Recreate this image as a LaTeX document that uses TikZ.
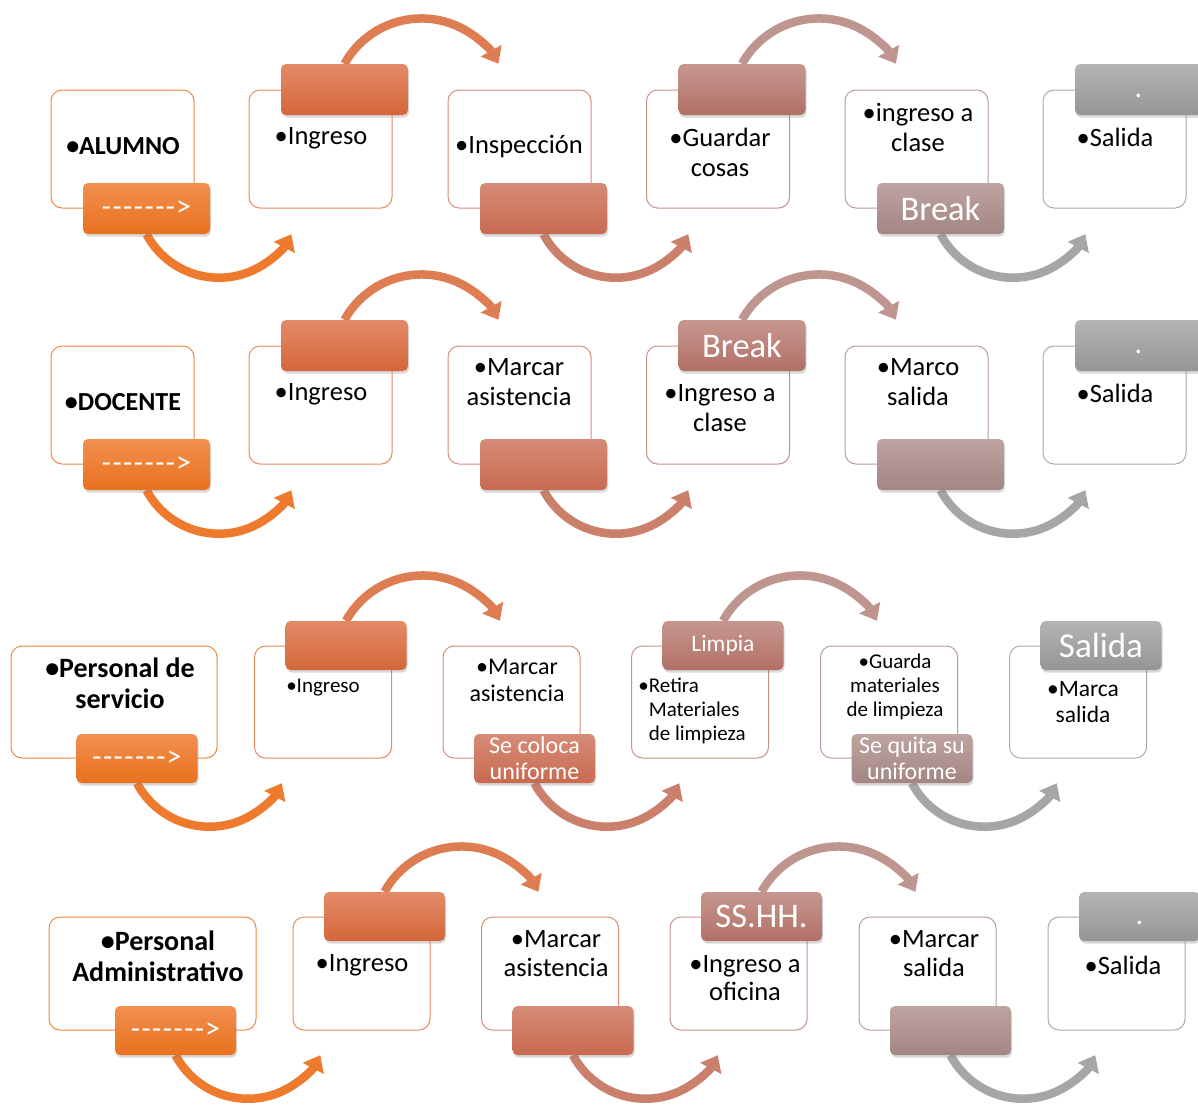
\documentclass[tikz,border=0pt]{standalone}
\usepackage{fontspec}
\setmainfont{Carlito}
\usetikzlibrary{arrows.meta}
\usetikzlibrary{shadows}
\usetikzlibrary{backgrounds}
\definecolor{borde1}{HTML}{F08840}
\definecolor{borde2}{HTML}{E88A5E}
\definecolor{borde3}{HTML}{D58C7A}
\definecolor{borde4}{HTML}{C8928C}
\definecolor{borde5}{HTML}{B89C9A}
\definecolor{borde6}{HTML}{AAAAAA}
\definecolor{arriba1}{HTML}{F29050}
\definecolor{arriba2}{HTML}{E48A68}
\definecolor{arriba3}{HTML}{D68C78}
\definecolor{arriba4}{HTML}{C6978F}
\definecolor{arriba5}{HTML}{BEA4A1}
\definecolor{arriba6}{HTML}{B4B4B4}
\definecolor{abajo1}{HTML}{E8711E}
\definecolor{abajo2}{HTML}{D4673A}
\definecolor{abajo3}{HTML}{C86A50}
\definecolor{abajo4}{HTML}{B27066}
\definecolor{abajo5}{HTML}{A38684}
\definecolor{abajo6}{HTML}{959595}
\definecolor{flecha1}{HTML}{EE7A2E}
\definecolor{flecha2}{HTML}{DF7D52}
\definecolor{flecha3}{HTML}{CB806C}
\definecolor{flecha4}{HTML}{BF958F}
\definecolor{flecha5}{HTML}{A6A6A6}
\newcommand{\tam}[2]{\fontsize{#1}{#2}\selectfont}
\newcommand{\flechaTab}{-\kern1.5pt-\kern1.5pt-\kern1.5pt-\kern1.5pt-\kern1.5pt-\kern1.5pt-\kern1pt>}
\newcommand{\punto}{\rule{0pt}{17pt}.}

\begin{document}
\begin{tikzpicture}[x=1pt, y=-1pt]
            \tikzstyle{caja} = [draw, line width=1pt, rounded corners=11pt, fill=white, inner sep=0pt]
            \tikzstyle{tapa} = [rounded corners=5pt, inner sep=0pt, align=center, text=white, drop shadow={opacity=0.3, shadow xshift=1pt, shadow yshift=-2.5pt}]
            \tikzstyle{texto} = [align=center, inner sep=0pt, font=\tam{26.5}{30}]
            \tikzstyle{flecha} = [line width=8.5pt, -{Triangle[length=15pt, width=23pt]}]
            \useasboundingbox (0,0) rectangle (1198,1104);

            % fila 1: alumno
            \foreach \i/\x/\lado/\s/\txt in {1/122.5/south/30/\flechaTab, 2/320.5/north/30/, 3/519.5/south/30/, 4/718/north/30/, 5/916.5/south/34.5/Break, 6/1114.5/north/30/\punto} {
                \node[caja, draw=borde\i, minimum width=143pt, minimum height=118pt] (a\i) at (\x,149) {};
                \node[tapa, top color=arriba\i, bottom color=abajo\i, minimum width=127pt, minimum height=51pt, font=\tam{\s}{30}] (a\i t) at ([xshift=24pt]a\i.\lado) {\txt};
            }
            \node[texto, font=\tam{26}{30}\bfseries] (a1x) at (123,146) {•ALUMNO};
            \node[texto] (a2x) at (321,138) {•Ingreso};
            \node[texto] (a3x) at (519,147) {•Inspección};
            \node[texto] (a4x) at (720,152) {•Guardar\\cosas};
            \node[texto] (a5x) at (918,127) {•ingreso a\\clase};
            \node[texto] (a6x) at (1115,137) {•Salida};

            % fila 2: docente
            \foreach \i/\x/\lado/\s/\txt in {1/122.5/south/30/\flechaTab, 2/320.5/north/30/, 3/519.5/south/30/, 4/718/north/34.5/Break, 5/916.5/south/30/, 6/1114.5/north/30/\punto} {
                \node[caja, draw=borde\i, minimum width=143pt, minimum height=118pt] (b\i) at (\x,405) {};
                \node[tapa, top color=arriba\i, bottom color=abajo\i, minimum width=127pt, minimum height=51pt, font=\tam{\s}{30}] (b\i t) at ([xshift=24pt]b\i.\lado) {\txt};
            }
            \node[texto, font=\tam{26}{30}\bfseries] (b1x) at (123,402) {•DOCENTE};
            \node[texto] (b2x) at (321,394) {•Ingreso};
            \node[texto] (b3x) at (519,382) {•Marcar\\asistencia};
            \node[texto] (b4x) at (720,408) {•Ingreso a\\clase};
            \node[texto] (b5x) at (918,382) {•Marco\\salida};
            \node[texto] (b6x) at (1115,393) {•Salida};

            % fila 3: personal de servicio
            \foreach \i/\x/\w/\lado/\s/\txt in {1/114/206/south/30/\flechaTab, 2/323/137/north/24/, 3/511.5/137/south/24/{Se coloca\\uniforme}, 4/700/137/north/23.5/Limpia, 5/889/137/south/24/{Se quita su\\uniforme}, 6/1078/137/north/35/Salida} {
                \node[caja, draw=borde\i, minimum width=\w pt, minimum height=112pt] (c\i) at (\x,702) {};
                \node[tapa, top color=arriba\i, bottom color=abajo\i, minimum width=121pt, minimum height=49pt, font=\tam{\s}{26}] (c\i t) at ([xshift=23pt]c\i.\lado) {\txt};
            }
            \node[texto, font=\tam{28}{31}\bfseries] (c1x) at (120,683) {•Personal de\\servicio};
            \node[texto, font=\tam{21}{24}] (c2x) at (323,688) {•Ingreso};
            \node[texto, font=\tam{24}{27}] (c3x) at (517,680) {•Marcar\\asistencia};
            \node[texto, font=\tam{21}{24}, align=left] (c4x) at (692,711) {•Retira\\\phantom{•}Materiales\\\phantom{•}de limpieza};
            \node[texto, font=\tam{21}{24}] (c5x) at (895,687) {•Guarda\\materiales\\de limpieza};
            \node[texto, font=\tam{23.5}{26}] (c6x) at (1083,702) {•Marca\\salida};

            % fila 4: personal administrativo
            \foreach \i/\x/\w/\lado/\s/\txt in {1/152.5/207/south/30/\flechaTab, 2/361.5/137/north/30/, 3/550/137/south/30/, 4/738.5/137/north/34.5/SS.HH., 5/927.5/137/south/30/, 6/1116.5/137/north/30/\punto} {
                \node[caja, draw=borde\i, minimum width=\w pt, minimum height=113pt] (d\i) at (\x,973.5) {};
                \node[tapa, top color=arriba\i, bottom color=abajo\i, minimum width=121pt, minimum height=49pt, font=\tam{\s}{30}] (d\i t) at ([xshift=23pt]d\i.\lado) {\txt};
            }
            \node[texto, font=\tam{28}{31}\bfseries] (d1x) at (158,956) {•Personal\\Administrativo};
            \node[texto, font=\tam{26.5}{29}] (d2x) at (362,965) {•Ingreso};
            \node[texto, font=\tam{26.5}{29}] (d3x) at (556,954) {•Marcar\\asistencia};
            \node[texto, font=\tam{26.5}{28}] (d4x) at (745,978) {•Ingreso a\\oficina};
            \node[texto, font=\tam{26.5}{29}] (d5x) at (934,954) {•Marcar\\salida};
            \node[texto, font=\tam{26.5}{29}] (d6x) at (1123,965) {•Salida};

            % flechas curvas debajo de las tapas
            \begin{scope}[on background layer]
                \foreach \f in {a,b,c,d} {
                    \foreach \i in {1,3,5}
                        \draw[flecha, color=flecha\i] (\f\i t.south) arc[start angle=-152, end angle=-28, radius=82pt];
                    \foreach \i in {2,4}
                        \draw[flecha, color=flecha\i] (\f\i t.north) arc[start angle=151, end angle=29, radius=88pt];
                }
            \end{scope}
        \end{tikzpicture}
\end{document}
